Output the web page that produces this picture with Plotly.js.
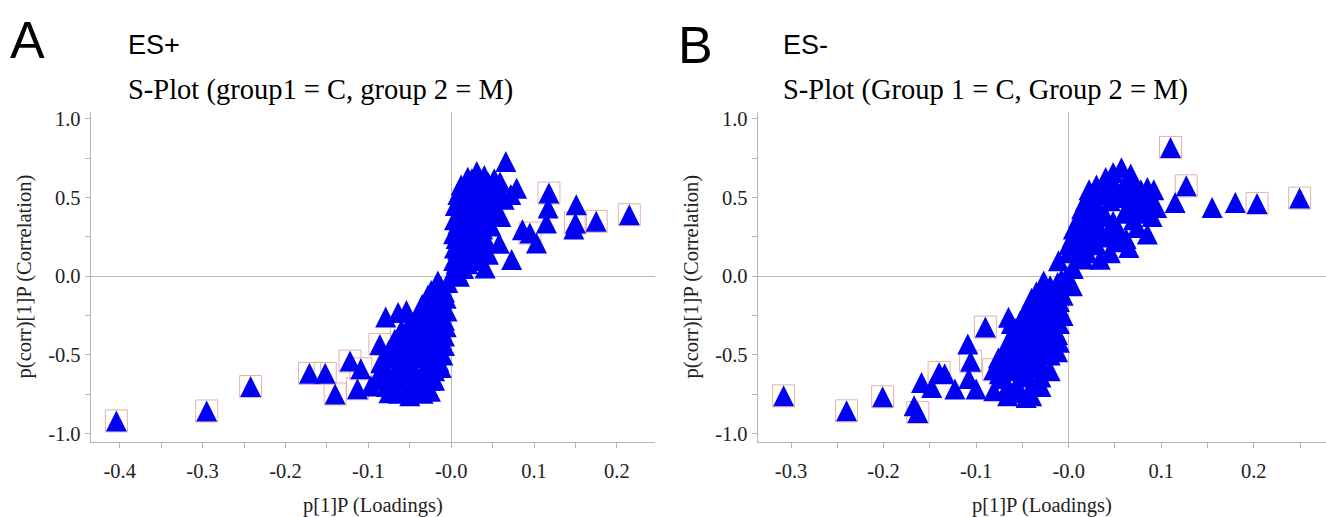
<!DOCTYPE html>
<html>
<head>
<meta charset="utf-8">
<script src="https://cdn.plot.ly/plotly-3.0.1.min.js"></script>
<style>html,body{margin:0;padding:0;background:#fff;}#chart{width:1326px;height:517px;}</style>
</head>
<body>
<div id="chart"></div>
<script>
// ---------- Panel A (ES+) ----------
const aX = [-0.404,-0.295,-0.242,-0.171,-0.152,-0.140,-0.122,-0.109,-0.113,-0.097,-0.086,-0.060,-0.079,-0.064,-0.054,
  -0.064,-0.034,-0.050,-0.078,-0.085,-0.080,-0.075,-0.068,-0.070,-0.058,-0.045,-0.030,-0.020,-0.065,-0.050,-0.035,-0.020,
  -0.055,-0.040,-0.025,-0.010,-0.060,-0.045,-0.030,-0.015,-0.050,-0.040,-0.025,-0.008,-0.045,-0.030,-0.018,-0.006,
  -0.040,-0.025,-0.012,-0.035,-0.022,-0.010,-0.030,-0.018,-0.006,-0.024,-0.012,-0.004,-0.016,
  -0.008,-0.020,-0.028,-0.012,-0.024,-0.035,-0.005,-0.016,-0.028,-0.040,-0.008,-0.030,-0.050,-0.060,-0.012,-0.036,-0.022,
  -0.055,-0.070,-0.035,-0.018,-0.008,-0.048,-0.062,-0.020,-0.035,-0.068,-0.050,-0.015,-0.030,-0.058,-0.042,-0.025,-0.012,
  -0.078,-0.062,-0.040,-0.025,-0.075,-0.050,-0.088,-0.085,
  0.004,0.010,0.006,0.012,0.008,0.015,0.006,0.013,0.008,0.016,0.010,0.018,0.012,0.020,0.017,0.025,0.031,0.028,0.035,
  0.030,0.025,0.022,0.020,0.028,0.032,0.040,0.045,0.045,0.038,0.052,0.055,0.048,0.042,0.036,0.041,0.058,0.060,0.064,
  0.059,0.066,0.079,0.072,0.073,
  0.003,0.004,0.003,0.004,0.005,0.008,0.012,0.020,0.015,0.020,0.025,0.018,0.028,0.035,0.026,0.038,0.020,0.032,0.048,
  0.018,0.025,0.040,0.052,0.022,0.042,0.058,0.030,0.048,0.035,0.052,0.040,0.012,0.012,0.027,0.033,0.045,
  0.118,0.117,0.115,0.151,0.150,0.148,0.175,0.215,0.086,0.095,0.103];
const aY = [-0.919,-0.856,-0.701,-0.617,-0.617,-0.748,-0.539,-0.588,-0.714,-0.697,-0.433,-0.351,-0.258,-0.230,-0.218,
  -0.744,-0.744,-0.730,-0.700,-0.600,-0.520,-0.470,-0.400,-0.660,-0.700,-0.680,-0.700,-0.660,-0.580,-0.600,-0.620,-0.600,
  -0.500,-0.520,-0.550,-0.500,-0.430,-0.440,-0.460,-0.430,-0.370,-0.390,-0.400,-0.380,-0.310,-0.330,-0.340,-0.320,
  -0.270,-0.260,-0.270,-0.210,-0.190,-0.200,-0.150,-0.130,-0.140,-0.090,-0.070,-0.040,-0.030,
  -0.100,-0.110,-0.120,-0.160,-0.160,-0.180,-0.220,-0.230,-0.230,-0.240,-0.280,-0.290,-0.300,-0.340,-0.310,-0.360,-0.370,
  -0.400,-0.430,-0.420,-0.400,-0.440,-0.470,-0.480,-0.480,-0.500,-0.520,-0.540,-0.540,-0.580,-0.620,-0.640,-0.660,-0.580,
  -0.600,-0.680,-0.720,-0.730,-0.740,-0.760,-0.660,-0.550,
  0.030,0.000,0.080,0.120,0.170,0.200,0.240,0.280,0.330,0.370,0.420,0.460,0.500,0.540,0.580,0.620,0.666,0.520,0.480,
  0.400,0.330,0.250,0.160,0.100,0.280,0.360,0.450,0.594,0.550,0.520,0.420,0.320,0.230,0.160,0.053,0.210,0.380,0.490,
  0.600,0.729,0.560,0.520,0.106,
  0.100,0.180,0.270,0.360,0.450,0.520,0.580,0.630,0.050,0.080,0.140,0.220,0.190,0.220,0.290,0.300,0.340,0.350,0.390,
  0.410,0.440,0.420,0.460,0.490,0.500,0.540,0.560,0.560,0.600,0.620,0.640,0.350,0.460,0.400,0.120,0.140,
  0.529,0.434,0.339,0.455,0.339,0.300,0.349,0.391,0.296,0.275,0.212];
const aBoxed = aX.map((_, i) => 0);
[0,1,2,3,4,5,6,7,8,10,11].forEach(i => aBoxed[i] = 1);
const aBoxedRight = [1,0,0,0,1,0,1,1,0,1,0];
aBoxedRight.forEach((f, k) => aBoxed[aX.length - aBoxedRight.length + k] = f);

// ---------- Panel B (ES-) ----------
const bX = [-0.308,-0.240,-0.201,-0.167,-0.163,-0.159,-0.148,-0.140,-0.134,-0.123,-0.109,-0.106,-0.108,-0.100,-0.090,-0.081,-0.081,-0.065,
  -0.066,-0.046,-0.070,-0.055,-0.040,-0.074,-0.060,-0.045,-0.030,-0.070,-0.058,-0.045,-0.030,-0.020,-0.064,-0.050,-0.036,-0.022,
  -0.058,-0.045,-0.030,-0.012,-0.052,-0.040,-0.025,-0.010,-0.044,-0.032,-0.018,-0.006,-0.040,-0.028,-0.014,-0.030,-0.018,-0.006,
  -0.027,-0.012,0.004,-0.002,
  -0.008,-0.020,-0.035,-0.010,-0.024,-0.036,-0.022,-0.048,-0.030,-0.015,-0.062,-0.040,-0.020,-0.052,-0.040,-0.025,-0.010,
  -0.060,-0.045,-0.028,-0.012,-0.062,-0.036,-0.020,-0.052,-0.066,-0.030,-0.056,-0.040,-0.075,-0.076,
  -0.011,0.005,0.016,0.000,0.034,0.010,0.004,0.020,0.005,0.018,0.011,0.025,0.018,0.014,0.030,0.022,0.035,0.040,0.045,0.040,
  0.035,0.050,0.057,0.067,0.060,0.055,0.065,0.085,0.092,0.095,0.085,0.074,0.085,0.065,0.050,0.075,
  0.000,0.008,0.012,0.020,0.025,0.030,0.045,0.048,0.052,0.062,0.070,0.078,0.082,0.072,0.060,0.070,0.055,0.062,0.042,0.028,
  0.030,0.020,0.010,0.045,0.035,0.048,0.088,0.078,0.090,0.040,0.015,0.065,
  0.110,0.127,0.115,0.155,0.180,0.2035,0.2495];
const bY = [-0.760,-0.855,-0.766,-0.823,-0.866,-0.675,-0.707,-0.611,-0.620,-0.717,-0.431,-0.540,-0.650,-0.717,-0.323,-0.594,-0.728,-0.260,
  -0.760,-0.770,-0.650,-0.700,-0.700,-0.560,-0.600,-0.620,-0.640,-0.480,-0.520,-0.540,-0.560,-0.500,-0.400,-0.430,-0.460,-0.440,
  -0.330,-0.350,-0.380,-0.370,-0.280,-0.290,-0.310,-0.300,-0.200,-0.220,-0.240,-0.250,-0.140,-0.160,-0.180,-0.080,-0.100,-0.120,
  -0.030,-0.040,-0.060,0.000,
  -0.020,-0.060,-0.100,-0.160,-0.130,-0.180,-0.200,-0.240,-0.260,-0.280,-0.300,-0.320,-0.340,-0.380,-0.400,-0.410,-0.420,
  -0.450,-0.480,-0.500,-0.480,-0.540,-0.580,-0.600,-0.640,-0.700,-0.700,-0.740,-0.760,-0.620,-0.520,
  0.099,0.050,0.110,0.150,0.109,0.200,0.250,0.220,0.300,0.300,0.374,0.360,0.480,0.430,0.440,0.550,0.520,0.628,0.480,0.380,
  0.280,0.320,0.690,0.650,0.580,0.500,0.440,0.565,0.550,0.437,0.406,0.310,0.268,0.183,0.220,0.500,
  0.200,0.260,0.330,0.400,0.470,0.580,0.600,0.660,0.550,0.530,0.580,0.550,0.480,0.450,0.400,0.360,0.280,0.240,0.250,0.300,
  0.200,0.150,0.120,0.150,0.400,0.350,0.500,0.400,0.380,0.520,0.280,0.620,
  0.819,0.575,0.469,0.437,0.469,0.463,0.497];
const bBoxed = bX.map((_, i) => 0);
[0,1,2,4,7,11,14,15].forEach(i => bBoxed[i] = 1);
const bBoxedRight = [1,1,0,0,0,1,1];
bBoxedRight.forEach((f, k) => bBoxed[bX.length - bBoxedRight.length + k] = f);

// tick labels
const xTicksA = [-0.4,-0.3,-0.2,-0.1,0,0.1,0.2];
const xTickTextA = ['-0.4','-0.3','-0.2','-0.1','-0.0','0.1','0.2'];
const xTicksB = [-0.3,-0.2,-0.1,0,0.1,0.2];
const xTickTextB = ['-0.3','-0.2','-0.1','-0.0','0.1','0.2'];
const yTicks = [-1.0,-0.5,0,0.5,1.0];
const yTickText = ['-1.0','-0.5','0.0','0.5','1.0'];

const W = 1326, H = 517;
const px = v => v / W;
const py = v => (H - v) / H;

const BLUE = 'rgb(0,0,242)';
const BOXC = 'rgba(222,170,160,0.9)';
const TRI = 21;

function pick(arr, flags){ return arr.filter((_, i) => flags[i] === 1); }

function triTrace(x, y, xa, ya){
  return {x, y, xaxis: xa, yaxis: ya, type:'scatter', mode:'markers', hoverinfo:'x+y', showlegend:false,
    marker:{symbol:'arrow-down', angle:180, standoff:TRI/2, size:TRI, color:BLUE, line:{width:0}}};
}
function boxTrace(x, y, xa, ya){
  return {x, y, xaxis: xa, yaxis: ya, type:'scatter', mode:'markers', hoverinfo:'skip', showlegend:false,
    marker:{symbol:'square-open', size:22, color:BOXC, line:{width:1, color:BOXC}}};
}

const data = [
  boxTrace(pick(aX, aBoxed), pick(aY, aBoxed), 'x', 'y'),
  triTrace(aX, aY, 'x', 'y'),
  boxTrace(pick(bX, bBoxed), pick(bY, bBoxed), 'x2', 'y2'),
  triTrace(bX, bY, 'x2', 'y2')
];

const AX = '#b4b4b4';
const SERIF = 'Liberation Serif, Times New Roman, serif';
const tickFont = {family: SERIF, size: 20.5, color: '#222'};
const titleFont = {family: SERIF, size: 20.5, color: '#222'};

function xAxis(domain, range, tv, tt){
  return {domain, range, showgrid:false, zeroline:true, zerolinecolor:'#b8b8b8', zerolinewidth:1,
    showline:true, linecolor:AX, linewidth:1, ticks:'outside', ticklen:5, tickcolor:AX, tickwidth:1,
    tickmode:'array', tickvals:tv, ticktext:tt, tickfont:tickFont, ticklabelstandoff:6,
    minor:{tickmode:'linear', tick0:0, dtick:0.05, ticks:'outside', ticklen:5, tickcolor:AX, showgrid:false},
    title:{text:'p[1]P (Loadings)', font:titleFont, standoff:18}, automargin:false, fixedrange:true};
}
function yAxis(domain, range, anchor){
  return {domain, range, anchor, showgrid:false, zeroline:true, zerolinecolor:'#b8b8b8', zerolinewidth:1,
    showline:true, linecolor:AX, linewidth:1, ticks:'outside', ticklen:5, tickcolor:AX, tickwidth:1,
    tickmode:'array', tickvals:yTicks, ticktext:yTickText, tickfont:tickFont,
    minor:{tickmode:'linear', tick0:0, dtick:0.25, ticks:'outside', ticklen:5, tickcolor:AX, showgrid:false},
    title:{text:'p(corr)[1]P (Correlation)', font:titleFont, standoff:10}, automargin:false, fixedrange:true};
}

const yDom = [py(441.5), py(111.7)];

const layout = {
  width: W, height: H,
  margin:{l:0, r:0, t:0, b:0, pad:0},
  paper_bgcolor:'#fff', plot_bgcolor:'#fff',
  showlegend:false,
  xaxis: Object.assign(xAxis([px(90.7), px(655)], [-0.435, 0.246], xTicksA, xTickTextA), {anchor:'y'}),
  yaxis: yAxis(yDom, [-1.05, 1.046], 'x'),
  xaxis2: Object.assign(xAxis([px(757.7), 1.0], [-0.336, 0.278], xTicksB, xTickTextB), {anchor:'y2'}),
  yaxis2: yAxis(yDom, [-1.05, 1.046], 'x2'),
  annotations: [
    {text:'A', xref:'paper', yref:'paper', x:px(8), y:py(40), xanchor:'left', yanchor:'middle', showarrow:false,
     font:{family:'Liberation Sans, Arial, sans-serif', size:52, color:'#000'}},
    {text:'B', xref:'paper', yref:'paper', x:px(676), y:py(45), xanchor:'left', yanchor:'middle', showarrow:false,
     font:{family:'Liberation Sans, Arial, sans-serif', size:52, color:'#000'}},
    {text:'ES+', xref:'paper', yref:'paper', x:px(126), y:py(45), xanchor:'left', yanchor:'middle', showarrow:false,
     font:{family:'Liberation Sans, Arial, sans-serif', size:27, color:'#000'}},
    {text:'ES-', xref:'paper', yref:'paper', x:px(781), y:py(45), xanchor:'left', yanchor:'middle', showarrow:false,
     font:{family:'Liberation Sans, Arial, sans-serif', size:27, color:'#000'}},
    {text:'S-Plot (group1 = C, group 2 = M)', xref:'paper', yref:'paper', x:px(126), y:py(90), xanchor:'left', yanchor:'middle', showarrow:false,
     font:{family:SERIF, size:28.5, color:'#000'}},
    {text:'S-Plot (Group 1 = C, Group 2 = M)', xref:'paper', yref:'paper', x:px(781), y:py(90), xanchor:'left', yanchor:'middle', showarrow:false,
     font:{family:SERIF, size:28.5, color:'#000'}}
  ]
};

Plotly.newPlot('chart', data, layout, {staticPlot:false, displayModeBar:false, responsive:false});
</script>
</body>
</html>
